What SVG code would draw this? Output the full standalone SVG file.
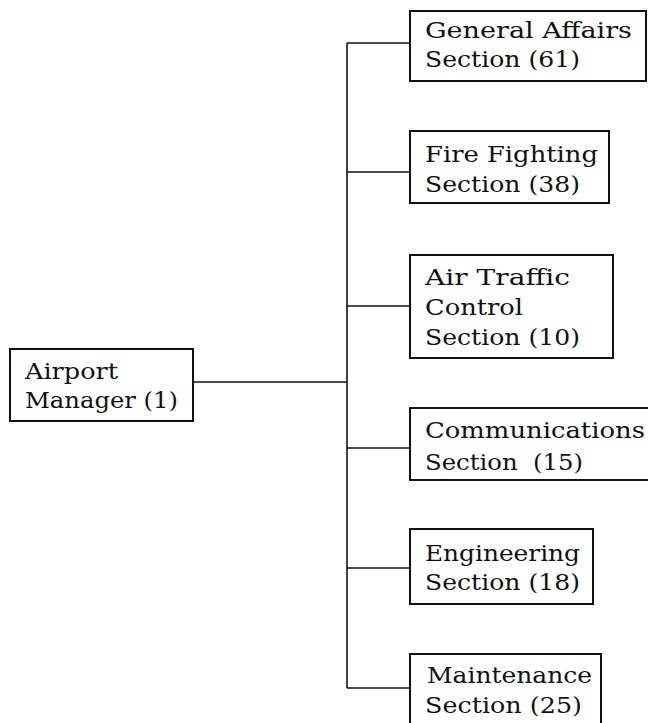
<svg xmlns="http://www.w3.org/2000/svg" width="648" height="723" viewBox="0 0 648 723">
<style>
.box{fill:#fff;stroke:#111;stroke-width:2}
.ln{stroke:#111;stroke-width:1.6;fill:none}
text{font-family:"DejaVu Serif","Liberation Serif",serif;font-size:22px;fill:#111}
</style>
<rect width="648" height="723" fill="#fff"/>
<g id="connectors">
<line class="ln" x1="193" y1="382" x2="347" y2="382"/>
<line class="ln" x1="347" y1="43" x2="347" y2="688"/>
<line class="ln" x1="347" y1="43" x2="410" y2="43"/>
<line class="ln" x1="347" y1="172" x2="410" y2="172"/>
<line class="ln" x1="347" y1="306" x2="410" y2="306"/>
<line class="ln" x1="347" y1="448" x2="410" y2="448"/>
<line class="ln" x1="347" y1="568" x2="410" y2="568"/>
<line class="ln" x1="347" y1="688" x2="410" y2="688"/>
</g>
<g id="airport-manager">
<rect class="box" x="10" y="349" width="183" height="72"/>
<text x="25" y="379" textLength="93" lengthAdjust="spacingAndGlyphs">Airport</text>
<text x="25" y="408" textLength="153" lengthAdjust="spacingAndGlyphs">Manager (1)</text>
</g>
<g id="general-affairs">
<rect class="box" x="410" y="11" width="236" height="70"/>
<text x="425" y="38" textLength="207" lengthAdjust="spacingAndGlyphs">General Affairs</text>
<text x="425" y="67" textLength="155" lengthAdjust="spacingAndGlyphs">Section (61)</text>
</g>
<g id="fire-fighting">
<rect class="box" x="410" y="131" width="199" height="72"/>
<text x="425" y="162" textLength="173" lengthAdjust="spacingAndGlyphs">Fire Fighting</text>
<text x="425" y="192" textLength="155" lengthAdjust="spacingAndGlyphs">Section (38)</text>
</g>
<g id="air-traffic">
<rect class="box" x="410" y="255" width="203" height="103"/>
<text x="425" y="285" textLength="145" lengthAdjust="spacingAndGlyphs">Air Traffic</text>
<text x="425" y="315" textLength="98" lengthAdjust="spacingAndGlyphs">Control</text>
<text x="425" y="345" textLength="155" lengthAdjust="spacingAndGlyphs">Section (10)</text>
</g>
<g id="communications">
<rect class="box" x="410" y="408" width="240" height="72"/>
<text x="425" y="438" textLength="220" lengthAdjust="spacingAndGlyphs">Communications</text>
<text x="425" y="470" textLength="158" lengthAdjust="spacingAndGlyphs" xml:space="preserve">Section  (15)</text>
</g>
<g id="engineering">
<rect class="box" x="410" y="529" width="183" height="75"/>
<text x="425" y="561" textLength="155" lengthAdjust="spacingAndGlyphs">Engineering</text>
<text x="425" y="590" textLength="155" lengthAdjust="spacingAndGlyphs">Section (18)</text>
</g>
<g id="maintenance">
<rect class="box" x="410" y="654" width="191" height="75"/>
<text x="427" y="683" textLength="165" lengthAdjust="spacingAndGlyphs">Maintenance</text>
<text x="425" y="713" textLength="157" lengthAdjust="spacingAndGlyphs">Section (25)</text>
</g>
</svg>
